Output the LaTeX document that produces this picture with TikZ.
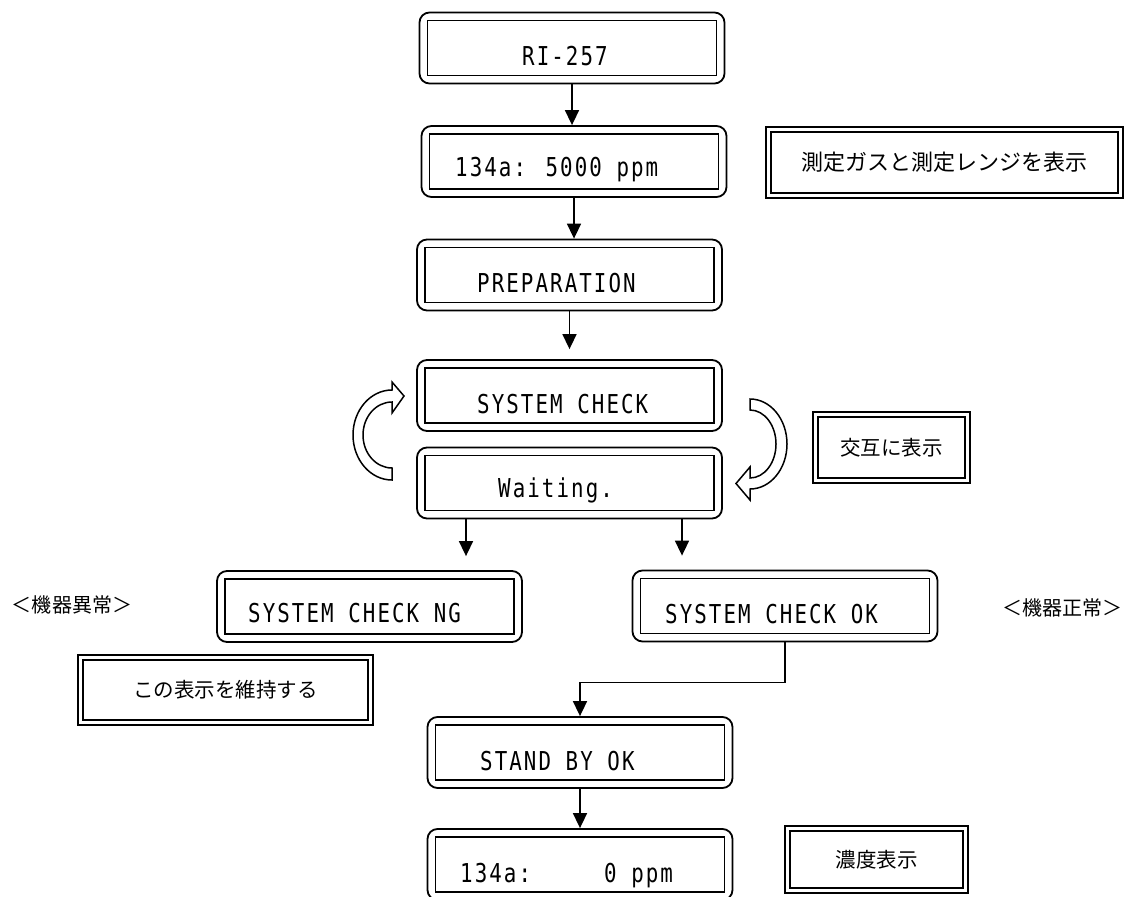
\documentclass[tikz,border=0pt]{standalone}
\usepackage{fontspec}
\usetikzlibrary{arrows.meta,positioning}
\newfontfamily\lcdfont[FakeStretch=0.8,LetterSpace=8]{DejaVu Sans Mono}
\newfontfamily\jpfont{Noto Sans CJK JP}

\tikzset{
  lcdbox/.style={draw, line width=1.8pt, rounded corners=10pt, minimum width=305pt, minimum height=71pt, inner sep=0pt,
    path picture={\draw[line width=1.5pt, sharp corners] ([shift={(8pt,8pt)}]path picture bounding box.south west) rectangle ([shift={(-8pt,-8pt)}]path picture bounding box.north east);}},
  lcdtext/.style={anchor=base west, inner sep=0pt, font=\lcdfont\fontsize{26}{30}\selectfont},
  notebox/.style={draw, double, double distance=3pt, line width=1.6pt, inner sep=0pt, font=\jpfont\fontsize{20.5}{24}\selectfont},
  jplabel/.style={inner sep=0pt, font=\jpfont\fontsize{20}{24}\selectfont},
  flow/.style={line width=1.6pt, -{Triangle[width=14pt,length=15pt]}},
  turn/.style={line width=1.5pt, fill=white}
}

\begin{document}
\begin{tikzpicture}[x=1pt,y=-1pt]
    \useasboundingbox (0,0) rectangle (1126,896);

    % display boxes
    \node[lcdbox] (ri) at (572,48) {};
    \node[lcdbox] (gas) at (574,161.5) {};
    \node[lcdbox] (prep) at (569.5,275) {};
    \node[lcdbox] (sys) at (569.5,395.5) {};
    \node[lcdbox] (wait) at (569.5,483) {};
    \node[lcdbox] (ng) at (369.5,606.5) {};
    \node[lcdbox] (ok) at (785,606) {};
    \node[lcdbox] (sb) at (580,752.5) {};
    \node[lcdbox] (last) at (580,864.5) {};

    % display texts
    \node[lcdtext] (ri-t) at (522,66) {RI-257};
    \node[lcdtext] (gas-t) at (455,177) {134a: 5000 ppm};
    \node[lcdtext] (prep-t) at (477,292) {PREPARATION};
    \node[lcdtext] (sys-t) at (477,413) {SYSTEM CHECK};
    \node[lcdtext] (wait-t) at (498,497) {Waiting.};
    \node[lcdtext] (ng-t) at (248,622) {SYSTEM CHECK NG};
    \node[lcdtext] (ok-t) at (665,623) {SYSTEM CHECK OK};
    \node[lcdtext] (sb-t) at (480,770) {STAND BY OK};
    \node[lcdtext] (last-t) at (460,882) {134a:\ \ \ \ \ 0 ppm};

    % notes
    \node[notebox, minimum width=352pt, minimum height=66pt, font=\jpfont\fontsize{22}{26}\selectfont] (n-gas) at (944.5,162.5) {測定ガスと測定レンジを表示};
    \node[notebox, minimum width=152pt, minimum height=66pt] (n-alt) at (891.5,447.5) {交互に表示};
    \node[notebox, minimum width=290pt, minimum height=65pt] (n-keep) at (225.5,690) {この表示を維持する};
    \node[notebox, minimum width=178pt, minimum height=62pt] (n-conc) at (876.5,859.5) {濃度表示};

    \node[jplabel] (l-bad) at (72,605) {＜機器異常＞};
    \node[jplabel] (l-good) at (1062,608) {＜機器正常＞};

    % flow
    \draw[flow] (ri.south) -- (ri.south |- gas.north);
    \draw[flow] (gas.south) -- (gas.south |- prep.north);
    \draw[flow, shorten >=10pt] (prep.south) -- (prep.south |- sys.north);
    \coordinate (ng-in) at ([xshift=-103.5pt]wait.south);
    \coordinate (ok-in) at ([xshift=112.5pt]wait.south);
    \draw[flow, shorten >=14pt] (ng-in) -- (ng-in |- ng.north);
    \draw[flow, shorten >=14pt] (ok-in) -- (ok-in |- ok.north);
    \draw[flow] (ok.south) -- ++(0,40) -| (sb.north);
    \draw[flow] (sb.south) -- (sb.south |- last.north);

    % alternating arrows
    \draw[turn] (392,390) arc[start angle=270, end angle=90, x radius=39, y radius=45] -- (392,468)
        arc[start angle=90, end angle=270, x radius=29, y radius=33] -- (392,413) -- (404,396) -- (392,382) -- cycle;
    \draw[turn] (750,399) arc[start angle=270, end angle=450, x radius=37, y radius=45] -- (750,500) -- (736,483.5) -- (750,467) -- (750,478)
        arc[start angle=90, end angle=-90, x radius=26, y radius=34] -- cycle;
\end{tikzpicture}
\end{document}
